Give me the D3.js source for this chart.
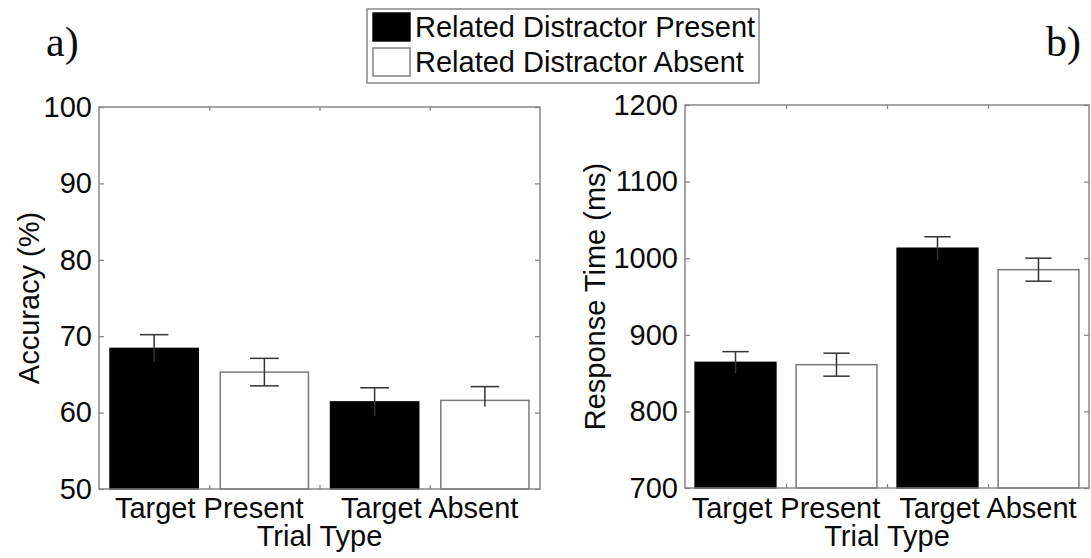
<!DOCTYPE html>
<html>
<head>
<meta charset="utf-8">
<script src="https://cdn.jsdelivr.net/npm/d3@7"></script>
<style>
  html, body { margin: 0; padding: 0; background: #fff; }
  svg { display: block; }
</style>
</head>
<body>
<svg id="chart" width="1091" height="558"></svg>
<script>
// ---------------- data ----------------
const categories = ["Target Present", "Target Absent"];
const seriesNames = ["Related Distractor Present", "Related Distractor Absent"];

const accuracyPresent = [68.4, 61.4];
const accuracyAbsent  = [65.3, 61.6];
const accuracyErrPresent = [1.8, 1.85];
const accuracyErrAbsent  = [1.8, 1.8];
const accuracyErrAbsentLow = [1.8, 0.8];

const rtPresent = [864, 1013];
const rtAbsent  = [861, 985];
const rtErrPresent = [14, 15];
const rtErrAbsent  = [15, 15];

const accuracyTicks = [50, 60, 70, 80, 90, 100];
const rtTicks = [700, 800, 900, 1000, 1100, 1200];
const xTickValues = [1, 1.5, 2];

const accuracyLabel = "Accuracy (%)";
const rtLabel = "Response Time (ms)";
const xLabel = "Trial Type";
const panelLetters = ["a)", "b)"];

// ---------------- drawing ----------------
const svg = d3.select("#chart");
const SANS = "'Liberation Sans', Arial, sans-serif";
const SERIF = "'Liberation Serif', 'Times New Roman', serif";
const frameColor = "#808080";
const textColor = "#0a0a0a";
const fills = ["#000000", "#ffffff"];

function buildRows(pres, abs, errP, errA, errALow) {
  const rows = [];
  categories.forEach((c, i) => {
    rows.push({ cat: i + 1, s: 0, v: pres[i], hi: errP[i], lo: errP[i] });
    rows.push({ cat: i + 1, s: 1, v: abs[i], hi: errA[i], lo: (errALow ? errALow[i] : errA[i]) });
  });
  return rows;
}

const panels = [
  { left: 99, right: 540, top: 107, bottom: 489, domain: [50, 100], ticks: accuracyTicks,
    rows: buildRows(accuracyPresent, accuracyAbsent, accuracyErrPresent, accuracyErrAbsent, accuracyErrAbsentLow),
    ylabel: accuracyLabel, ylabelX: 29, letter: panelLetters[0], letterX: 46 },
  { left: 685, right: 1089, top: 105, bottom: 488, domain: [700, 1200], ticks: rtTicks,
    rows: buildRows(rtPresent, rtAbsent, rtErrPresent, rtErrAbsent, null),
    ylabel: rtLabel, ylabelX: 595, letter: panelLetters[1], letterX: 1046 }
];

const barOffset = 0.25, barWidth = 0.4, capHalf = 0.065;

panels.forEach(p => {
  const x = d3.scaleLinear().domain([0.5, 2.5]).range([p.left, p.right]);
  const y = d3.scaleLinear().domain(p.domain).range([p.bottom, p.top]);
  const g = svg.append("g");

  // bars
  g.selectAll("rect.bar").data(p.rows).enter().append("rect")
    .attr("class", "bar")
    .attr("x", d => x(d.cat + (d.s === 0 ? -barOffset : barOffset) - barWidth / 2))
    .attr("width", d => x(d.cat + barWidth / 2) - x(d.cat - barWidth / 2))
    .attr("y", d => y(d.v))
    .attr("height", d => y(p.domain[0]) - y(d.v))
    .attr("fill", d => fills[d.s])
    .attr("stroke", d => d.s === 0 ? "#000" : "#7a7a7a")
    .attr("stroke-width", 1.5);

  // error bars
  const eb = g.selectAll("g.err").data(p.rows).enter().append("g").attr("class", "err");
  const cx = d => x(d.cat + (d.s === 0 ? -barOffset : barOffset));
  const cw = x(1 + capHalf) - x(1);
  eb.append("line")
    .attr("x1", cx).attr("x2", cx)
    .attr("y1", d => y(d.v + d.hi)).attr("y2", d => y(d.v - d.lo))
    .attr("stroke", "#333").attr("stroke-width", 1.5);
  eb.append("line")
    .attr("x1", d => cx(d) - cw).attr("x2", d => cx(d) + cw)
    .attr("y1", d => y(d.v + d.hi)).attr("y2", d => y(d.v + d.hi))
    .attr("stroke", "#333").attr("stroke-width", 1.5);
  eb.filter(d => d.s === 1 && d.lo > 1.0).append("line")
    .attr("x1", d => cx(d) - cw).attr("x2", d => cx(d) + cw)
    .attr("y1", d => y(d.v - d.lo)).attr("y2", d => y(d.v - d.lo))
    .attr("stroke", "#333").attr("stroke-width", 1.5);

  // frame
  g.append("rect")
    .attr("x", p.left).attr("y", p.top)
    .attr("width", p.right - p.left).attr("height", p.bottom - p.top)
    .attr("fill", "none").attr("stroke", frameColor).attr("stroke-width", 1.4);

  // axes (inward ticks)
  const axL = g.append("g").attr("transform", `translate(${p.left},0)`)
    .call(d3.axisLeft(y).tickValues(p.ticks).tickSize(-5).tickPadding(7).tickFormat(d3.format("d")));
  const axR = g.append("g").attr("transform", `translate(${p.right},0)`)
    .call(d3.axisRight(y).tickValues(p.ticks).tickSize(-5).tickFormat(""));
  const axB = g.append("g").attr("transform", `translate(0,${p.bottom})`)
    .call(d3.axisBottom(x).tickValues(xTickValues).tickSize(-4).tickFormat(""));
  const axT = g.append("g").attr("transform", `translate(0,${p.top})`)
    .call(d3.axisTop(x).tickValues(xTickValues).tickSize(-4).tickFormat(""));
  [axL, axR, axB, axT].forEach(a => {
    a.select(".domain").remove();
    a.selectAll(".tick line").attr("stroke", frameColor).attr("stroke-width", 1.2);
  });
  axL.selectAll(".tick text")
    .attr("font-family", SANS).attr("font-size", 29).attr("fill", textColor);

  // category labels
  g.selectAll("text.cat").data(categories).enter().append("text")
    .attr("class", "cat")
    .attr("x", (d, i) => x(i + 1))
    .attr("y", 518)
    .attr("text-anchor", "middle")
    .attr("font-family", SANS).attr("font-size", 29).attr("fill", textColor)
    .text(d => d);

  // x label
  g.append("text")
    .attr("x", x(1.5)).attr("y", 546)
    .attr("text-anchor", "middle")
    .attr("font-family", SANS).attr("font-size", 29).attr("fill", textColor)
    .text(xLabel);

  // y label
  g.append("text")
    .attr("transform", `translate(${p.ylabelX},${(p.top + p.bottom) / 2}) rotate(-90)`)
    .attr("text-anchor", "middle")
    .attr("dominant-baseline", "central")
    .attr("font-family", SANS).attr("font-size", 29).attr("fill", textColor)
    .text(p.ylabel);

  // panel letter
  g.append("text")
    .attr("x", p.letterX).attr("y", 56)
    .attr("font-family", SERIF).attr("font-size", 42).attr("fill", textColor)
    .text(p.letter);
});

// legend
const lg = svg.append("g");
lg.append("rect").attr("x", 367).attr("y", 9).attr("width", 392).attr("height", 74)
  .attr("fill", "#fff").attr("stroke", frameColor).attr("stroke-width", 1.4);
const li = lg.selectAll("g.item").data(seriesNames).enter().append("g").attr("class", "item")
  .attr("transform", (d, i) => `translate(373,${13 + i * 35})`);
li.append("rect").attr("width", 37).attr("height", 28)
  .attr("fill", (d, i) => fills[i])
  .attr("stroke", (d, i) => i === 0 ? "#000" : "#7a7a7a").attr("stroke-width", 1.4);
li.append("text").attr("x", 42).attr("y", 24)
  .attr("font-family", SANS).attr("font-size", 29).attr("fill", textColor)
  .text(d => d);
</script>
</body>
</html>
